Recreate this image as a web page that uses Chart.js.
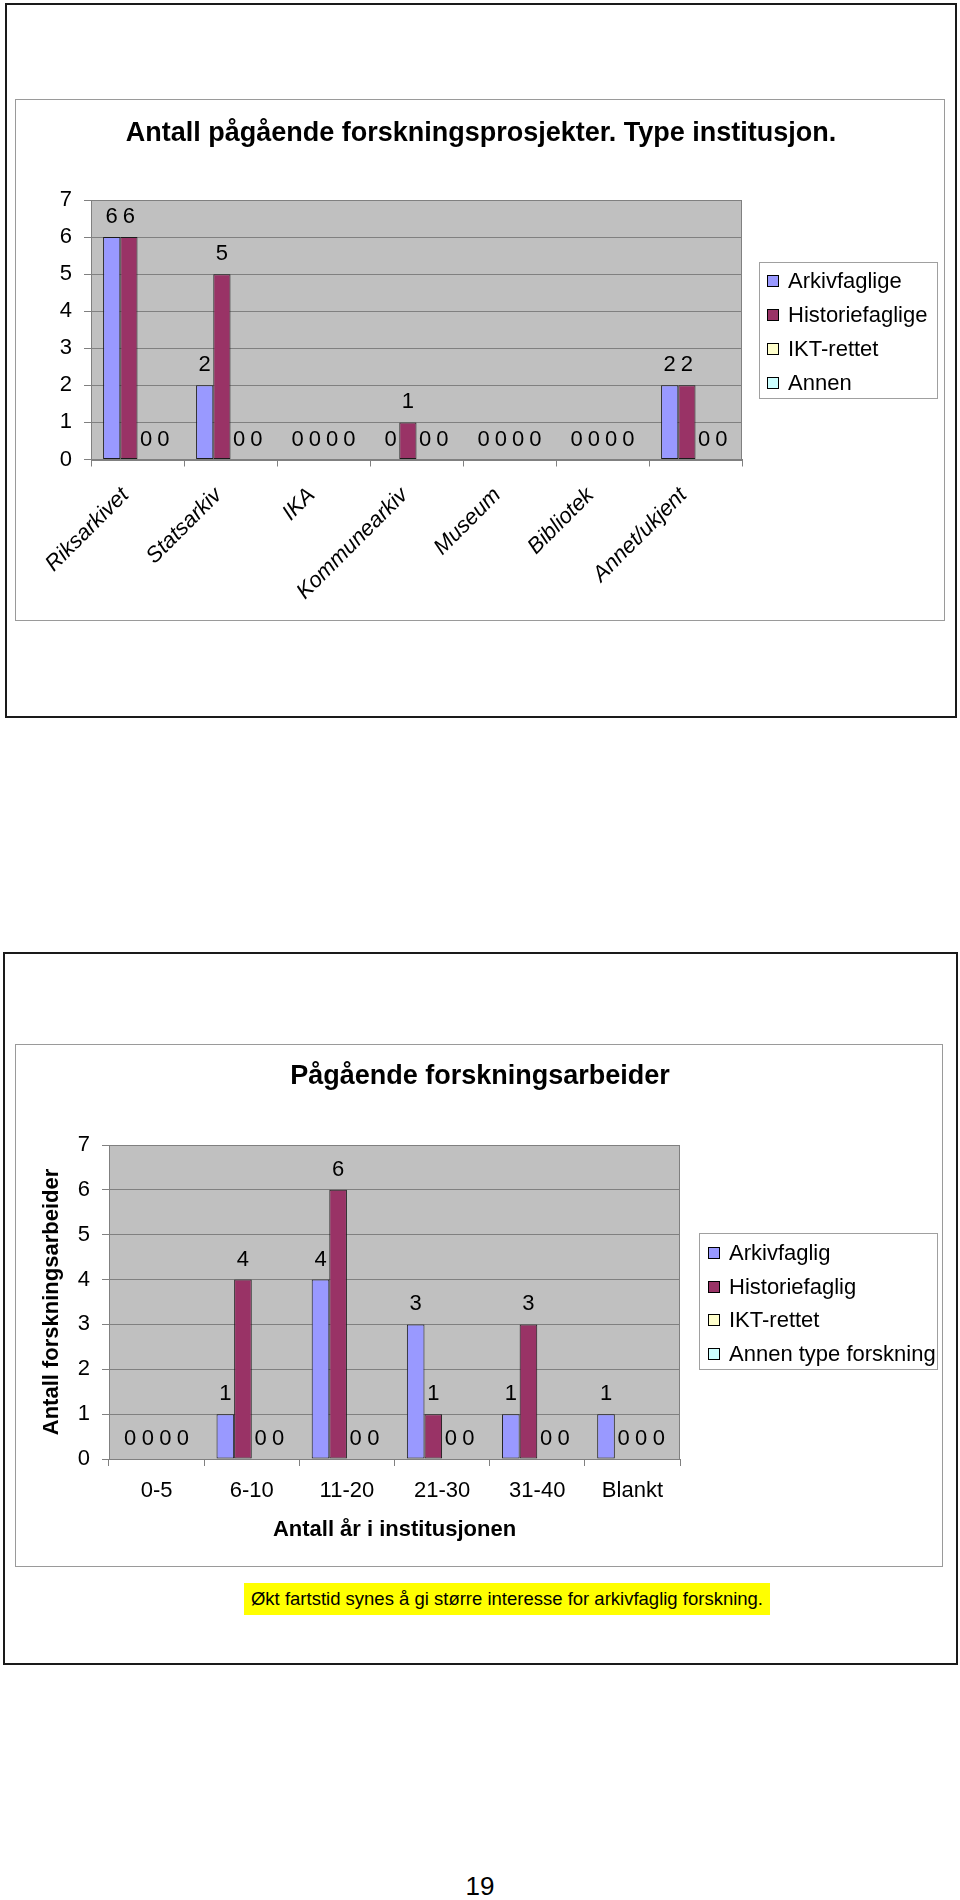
<!DOCTYPE html>
<html>
<head>
<meta charset="utf-8">
<script src="https://cdn.jsdelivr.net/npm/chart.js@4.4.0/dist/chart.umd.min.js"></script>
<style>
    body { margin: 0; background: #fff; font-family: "Liberation Sans", Arial, sans-serif; }
    #page { position: relative; width: 960px; height: 1900px; overflow: hidden; }
    .frame { position: absolute; border: 2px solid #1a1a1a; box-sizing: border-box; }
    .panel { position: absolute; border: 1px solid #9a9a9a; box-sizing: border-box; pointer-events: none; }
    .holder { position: absolute; }
    #note { position: absolute; left: 244px; top: 1583px; width: 526px; height: 32px; background: #ffff00;
            font-size: 18.5px; line-height: 32px; text-align: center; color: #000; }
    #pageno { position: absolute; left: 0; width: 960px; top: 1871px; text-align: center; font-size: 26px; color: #000; }
</style>
</head>
<body>
<div id="page">
    <div class="frame" style="left:5px; top:3px; width:952px; height:715px;"></div>
    <div class="holder" style="left:15px; top:99px; width:930px; height:522px;"><canvas id="institusjon"></canvas></div>
    <div class="panel" style="left:15px; top:99px; width:930px; height:522px;"></div>

    <div class="frame" style="left:3px; top:952px; width:955px; height:713px;"></div>
    <div class="holder" style="left:15px; top:1044px; width:928px; height:523px;"><canvas id="arbeider"></canvas></div>
    <div class="panel" style="left:15px; top:1044px; width:928px; height:523px;"></div>

    <div id="note">Økt fartstid synes å gi større interesse for arkivfaglig forskning.</div>
    <div id="pageno">19</div>
</div>

<script>
// chart 1 - type institusjon
let institusjoner = ["Riksarkivet", "Statsarkiv", "IKA", "Kommunearkiv", "Museum", "Bibliotek", "Annet/ukjent"];
let arkivfaglige = [6, 2, 0, 0, 0, 0, 2];
let historiefaglige = [6, 5, 0, 1, 0, 0, 2];
let iktRettet = [0, 0, 0, 0, 0, 0, 0];
let annen = [0, 0, 0, 0, 0, 0, 0];

// chart 2 - antall aar i institusjonen
let aarGrupper = ["0-5", "6-10", "11-20", "21-30", "31-40", "Blankt"];
let arkivfaglig = [0, 1, 4, 3, 1, 1];
let historiefaglig = [0, 4, 6, 1, 3, 0];
let iktRettet2 = [0, 0, 0, 0, 0, 0];
let annenType = [0, 0, 0, 0, 0, 0];

let yMin = 0;
let yMax = 7;

const FONT = '"Liberation Sans", Arial, sans-serif';
const colors = ["#9999ff", "#993366", "#ffffcc", "#ccffff"];

Chart.defaults.font.family = FONT;
Chart.defaults.color = "#000";

const plotBackground = {
    id: "plotBackground",
    beforeDraw(chart) {
        let a = chart.chartArea;
        chart.ctx.save();
        chart.ctx.fillStyle = "#c0c0c0";
        chart.ctx.fillRect(a.left, a.top, a.width, a.height);
        chart.ctx.restore();
    },
    beforeDatasetsDraw(chart) {
        let a = chart.chartArea;
        chart.ctx.save();
        chart.ctx.strokeStyle = "#808080";
        chart.ctx.lineWidth = 1;
        chart.ctx.strokeRect(Math.round(a.left) + 0.5, Math.round(a.top) + 0.5, Math.round(a.width) - 1, Math.round(a.height));
        chart.ctx.restore();
    }
};

// title centred on the whole panel, not only the space left of the legend
const panelTitle = {
    id: "panelTitle",
    afterDraw(chart, args, o) {
        let ctx = chart.ctx;
        ctx.save();
        ctx.font = "bold 27px " + FONT;
        ctx.fillStyle = "#000";
        ctx.textAlign = "center";
        ctx.textBaseline = "middle";
        ctx.fillText(o.text, o.x, o.y);
        ctx.restore();
    }
};

const valueLabels = {
    id: "valueLabels",
    afterDatasetsDraw(chart) {
        let ctx = chart.ctx;
        ctx.save();
        ctx.font = "22px " + FONT;
        ctx.fillStyle = "#000";
        ctx.textAlign = "center";
        ctx.textBaseline = "middle";
        chart.data.datasets.forEach((ds, i) => {
            chart.getDatasetMeta(i).data.forEach((bar, j) => {
                ctx.fillText(String(ds.data[j]), bar.x, bar.y - 20);
            });
        });
        ctx.restore();
    }
};

const boxLegend = {
    id: "boxLegend",
    afterDraw(chart, args, o) {
        let ctx = chart.ctx;
        ctx.save();
        ctx.strokeStyle = "#a0a0a0";
        ctx.lineWidth = 1;
        ctx.strokeRect(o.x + 0.5, o.y + 0.5, o.w, o.h);
        ctx.font = "22px " + FONT;
        ctx.textBaseline = "middle";
        chart.data.datasets.forEach((ds, i) => {
            let cy = Math.round(o.firstY + i * o.rowH);
            ctx.fillStyle = ds.backgroundColor;
            ctx.fillRect(o.swatchX, cy - 6, 12, 12);
            ctx.strokeStyle = "#000";
            ctx.strokeRect(o.swatchX + 0.5, cy - 5.5, 11, 11);
            ctx.fillStyle = "#000";
            ctx.fillText(ds.label, o.textX, cy + 1);
        });
        ctx.restore();
    }
};

function makeDatasets(names, series) {
    return series.map((values, i) => ({
        label: names[i],
        data: values,
        backgroundColor: colors[i],
        borderColor: "#1a1a1a",
        borderWidth: (c) => (c.raw === 0 ? 0 : 1),
        borderSkipped: false,
        categoryPercentage: 0.74,
        barPercentage: 1.0
    }));
}

function loadChart(canvasId, labels, datasets, cfg) {
    return new Chart(document.getElementById(canvasId), {
        type: "bar",
        data: { labels: labels, datasets: datasets },
        plugins: [plotBackground, valueLabels, boxLegend, panelTitle],
        options: {
            responsive: true,
            maintainAspectRatio: false,
            animation: false,
            events: [],
            layout: { padding: { left: 0, top: cfg.topPad, bottom: 0, right: cfg.rightPad } },
            plugins: {
                legend: { display: false },
                tooltip: { enabled: false },
                title: { display: false },
                panelTitle: cfg.title,
                boxLegend: cfg.legend
            },
            scales: {
                y: {
                    min: yMin,
                    max: yMax,
                    ticks: { stepSize: 1, font: { size: 22 }, color: "#000", padding: 12 },
                    grid: { color: "#808080", tickColor: "#808080", tickLength: 7 },
                    border: { color: "#808080" },
                    title: cfg.yTitle,
                    afterFit: (s) => { s.width = cfg.yWidth; }
                },
                x: {
                    ticks: {
                        autoSkip: false,
                        font: { size: 22, style: cfg.xItalic ? "italic" : "normal" },
                        color: "#000",
                        minRotation: cfg.xRotation,
                        maxRotation: cfg.xRotation,
                        padding: cfg.xTickPad,
                        labelOffset: cfg.xLabelOffset
                    },
                    grid: { offset: true, drawOnChartArea: false, color: "#808080", tickLength: 7 },
                    border: { color: "#808080" },
                    title: cfg.xTitle,
                    afterFit: (s) => { s.height = cfg.xHeight; }
                }
            }
        }
    });
}

loadChart("institusjon", institusjoner,
    makeDatasets(["Arkivfaglige", "Historiefaglige", "IKT-rettet", "Annen"], [arkivfaglige, historiefaglige, iktRettet, annen]),
    {
        title: { text: "Antall pågående forskningsprosjekter. Type institusjon.", x: 466, y: 35 },
        topPad: 101,
        rightPad: 203,
        yWidth: 76,
        xHeight: 161.5,
        xRotation: 45,
        xItalic: true,
        xTickPad: 16,
        xLabelOffset: -12,
        yTitle: { display: false },
        xTitle: { display: false },
        legend: { x: 744, y: 163, w: 178, h: 136, firstY: 182, rowH: 34, swatchX: 752, textX: 773 }
    });

loadChart("arbeider", aarGrupper,
    makeDatasets(["Arkivfaglig", "Historiefaglig", "IKT-rettet", "Annen type forskning"], [arkivfaglig, historiefaglig, iktRettet2, annenType]),
    {
        title: { text: "Pågående forskningsarbeider", x: 465, y: 33 },
        topPad: 101,
        rightPad: 263,
        yWidth: 94,
        xHeight: 108,
        xRotation: 0,
        xItalic: false,
        xTickPad: 12,
        xLabelOffset: 0,
        yTitle: { display: true, text: "Antall forskningsarbeider", color: "#000", font: { size: 22, weight: "bold" }, padding: { top: 24, bottom: 0 } },
        xTitle: { display: true, text: "Antall år i institusjonen", color: "#000", font: { size: 22, weight: "bold" }, padding: { top: 0, bottom: 24 } },
        legend: { x: 684, y: 189, w: 238, h: 136, firstY: 209, rowH: 33.7, swatchX: 693, textX: 714 }
    });
</script>
</body>
</html>
